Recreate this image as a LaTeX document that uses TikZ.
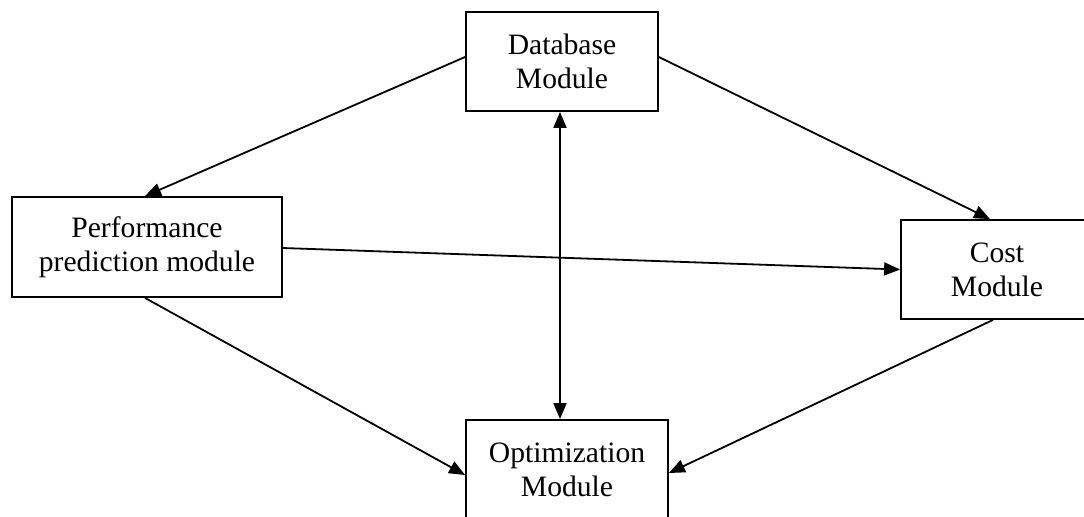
\documentclass[tikz,border=0pt]{standalone}
\usepackage{fontspec}
\setmainfont{Liberation Serif}
\usetikzlibrary{arrows.meta,calc}
\begin{document}
\begin{tikzpicture}[x=0.5pt,y=-0.5pt,
  modbox/.style={draw,line width=0.9pt,align=center,inner sep=0pt,
    font=\fontsize{14.8}{17}\selectfont},
  conn/.style={line width=0.9pt,-{Triangle[length=8pt,width=6.5pt]}},
  dconn/.style={line width=0.9pt,{Triangle[length=8pt,width=6.5pt]}-{Triangle[length=8pt,width=6.5pt]}}]
\useasboundingbox (0,0) rectangle (1084,516);
\clip (0,0) rectangle (1084,516);
\node[modbox,minimum width=96pt,minimum height=49.5pt] (db) at (562,61.5) {Database\\Module};
\node[modbox,minimum width=135pt,minimum height=50pt] (perf) at (147,247) {Performance\\prediction module};
\node[modbox,minimum width=96pt,minimum height=49.5pt] (cost) at (997,269.5) {Cost\\Module};
\node[modbox,minimum width=101pt,minimum height=49.5pt] (opt) at (567,469.5) {Optimization\\Module};
\draw[conn] ($(db.west)+(0,-4.5)$) -- ($(perf.north)+(-2,0)$);
\draw[conn] ($(db.east)+(0,-4.5)$) -- ($(cost.north)+(-7,0)$);
\draw[dconn] ($(db.south)+(-2,0)$) -- ($(opt.north)+(-7,0)$);
\draw[conn] ($(perf.east)+(0,1)$) -- (cost.west);
\draw[conn] ($(perf.south)+(-2,0)$) -- ($(opt.west)+(0,5.5)$);
\draw[conn] ($(cost.south)+(-4,0)$) -- ($(opt.east)+(0,3.5)$);
\end{tikzpicture}
\end{document}
